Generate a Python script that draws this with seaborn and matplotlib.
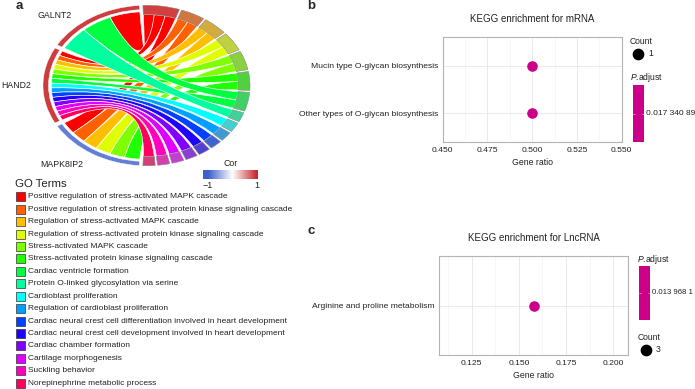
import numpy as np
import pandas as pd
import matplotlib
matplotlib.use("Agg")
import matplotlib.pyplot as plt
import seaborn as sns
from matplotlib.patches import PathPatch, Rectangle, Wedge
from matplotlib.path import Path
from matplotlib.colors import LinearSegmentedColormap, Normalize, to_rgb

# ---------------- data ----------------
genes = ["GALNT2", "HAND2", "MAPK8IP2"]
gene_cor = [0.9, 0.9, -0.8]
go_terms = [
    "Positive regulation of stress-activated MAPK cascade",
    "Positive regulation of stress-activated protein kinase signaling cascade",
    "Regulation of stress-activated MAPK cascade",
    "Regulation of stress-activated protein kinase signaling cascade",
    "Stress-activated MAPK cascade",
    "Stress-activated protein kinase signaling cascade",
    "Cardiac ventricle formation",
    "Protein O-linked glycosylation via serine",
    "Cardioblast proliferation",
    "Regulation of cardioblast proliferation",
    "Cardiac neural crest cell differentiation involved in heart development",
    "Cardiac neural crest cell development involved in heart development",
    "Cardiac chamber formation",
    "Cartilage morphogenesis",
    "Suckling behavior",
    "Norepinephrine metabolic process",
]
term_colors = ["#FF0000", "#FF6000", "#FFBF00", "#DFFF00", "#80FF00", "#20FF00",
               "#00FF40", "#00FF9F", "#00FFFF", "#009FFF", "#0040FF", "#2000FF",
               "#8000FF", "#DF00FF", "#FF00BF", "#FF0060"]
# term membership (1-based term index) of each gene
galnt2_terms = [1, 7, 8]
hand2_terms = [1, 2, 3, 4, 5, 6, 7, 9, 10, 11, 12, 13, 14, 15, 16]
mapk8ip2_terms = [1, 2, 3, 4, 5, 6]

kegg_m_terms = ["Other types of O-glycan biosynthesis", "Mucin type O-glycan biosynthesis"]
kegg_m_ratio = [0.5, 0.5]
kegg_m_count = [1, 1]
kegg_m_padj = [0.01734089, 0.01734089]
kegg_m_padj_label = "0.017 340 89"
kegg_m_ticks = [0.450, 0.475, 0.500, 0.525, 0.550]

kegg_l_terms = ["Arginine and proline metabolism"]
kegg_l_ratio = [0.158]
kegg_l_count = [3]
kegg_l_padj = [0.0139681]
kegg_l_padj_label = "0.013 968 1"
kegg_l_ticks = [0.125, 0.150, 0.175, 0.200]

# ---------------- style ----------------
sns.set_theme(style="white")
plt.rcParams["font.family"] = ["Liberation Sans", "DejaVu Sans"]
plt.rcParams["mathtext.fontset"] = "custom"
plt.rcParams["mathtext.rm"] = "Liberation Sans"
plt.rcParams["mathtext.it"] = "Liberation Sans:italic"

W, H = 695, 389
fig = plt.figure(figsize=(W / 100, H / 100), dpi=100)

def px_axes(x0, y0, x1, y1, **kw):
    return fig.add_axes([x0 / W, 1 - y1 / H, (x1 - x0) / W, (y1 - y0) / H], **kw)

# ---------------- chord diagram ----------------
cx, cy, rx, ry = 146.5, 85.5, 91.6, 71.0
axc = px_axes(0, 0, 300, 176)
axc.set_xlim((0 - cx) / rx, (300 - cx) / rx)
axc.set_ylim((cy - 176) / ry, cy / ry)
axc.axis("off")

def pt(r, d):
    t = np.deg2rad(d)
    return (r * np.cos(t), r * np.sin(t))

def arc(r, d1, d2, n=40):
    return [pt(r, d) for d in np.linspace(d1, d2, n)]

gene_links = [galnt2_terms, hand2_terms, mapk8ip2_terms]
n_terms = len(go_terms)
term_genes = [[g for g in range(len(genes)) if (k + 1) in gene_links[g]] for k in range(n_terms)]
n_links = sum(len(l) for l in gene_links)

g_start, g_end, g_gap = 94.0, 266.0, 2.6
g_span = (g_end - g_start - g_gap * (len(genes) - 1)) / len(genes)
t_start, t_end, t_gap = 92.0, -92.0, 1.3
t_w = (t_start - t_end - t_gap * (n_terms - 1)) / n_links

cmap = LinearSegmentedColormap.from_list("cor", ["#3D5FCB", "#FFFFFF", "#C8282C"])
norm = Normalize(-1, 1)

gene_lo = [g_start + g * (g_span + g_gap) for g in range(len(genes))]
term_hi = []
acc = t_start
for k in range(n_terms):
    term_hi.append(acc)
    acc -= len(term_genes[k]) * t_w + t_gap

rg, rt = 1.04, 1.0
for k in range(n_terms):
    for j, g in enumerate(term_genes[k]):
        idx = gene_links[g].index(k + 1)
        w = g_span / len(gene_links[g])
        a1 = gene_lo[g] + idx * w
        a2 = a1 + w
        b_hi = term_hi[k] - j * t_w
        b_lo = b_hi - t_w
        verts = arc(rg, a1, a2)
        codes = [Path.MOVETO] + [Path.LINETO] * (len(verts) - 1)
        verts += [(0, 0), pt(rt, b_lo)]
        codes += [Path.CURVE3, Path.CURVE3]
        ta = arc(rt, b_lo, b_hi)[1:]
        verts += ta
        codes += [Path.LINETO] * len(ta)
        verts += [(0, 0), pt(rg, a1), (0, 0)]
        codes += [Path.CURVE3, Path.CURVE3, Path.CLOSEPOLY]
        axc.add_patch(PathPatch(Path(verts, codes), facecolor=term_colors[k],
                                edgecolor="white", lw=0.45, zorder=2))

for k in range(n_terms):
    c = np.array(to_rgb(term_colors[k])) * 0.57 + 0.25
    b_hi = term_hi[k]
    b_lo = b_hi - len(term_genes[k]) * t_w
    axc.add_patch(Wedge((0, 0), 1.13, b_lo, b_hi, width=0.13, facecolor=c,
                        edgecolor="#8a8a8a", lw=0.4, zorder=3))
for g in range(len(genes)):
    axc.add_patch(Wedge((0, 0), 1.13, gene_lo[g], gene_lo[g] + g_span, width=0.06,
                        facecolor=cmap(norm(gene_cor[g])), edgecolor="white", lw=0.3, zorder=3))

# gene labels (pixel positions)
fig.text(55 / W, 1 - 15.5 / H, genes[0], ha="center", va="center", fontsize=6.3, color="#222222")
fig.text(1 / W, 1 - 85.5 / H, genes[1], ha="left", va="center", fontsize=6.3, color="#222222")
fig.text(62 / W, 1 - 164.5 / H, genes[2], ha="center", va="center", fontsize=6.3, color="#222222")

# Cor colorbar
axcb = px_axes(203, 170, 258, 179)
xs = np.linspace(-1.2, 1.04, 200)
axcb.imshow(cmap(norm(np.clip(xs, -1, 1)))[None, :, :], extent=(-1.2, 1.04, 0, 1), aspect="auto")
axcb.set_xlim(-1.2, 1.04)
axcb.set_yticks([])
axcb.set_xticks([-1, 1])
axcb.set_xticklabels(["\u22121", "1"], fontsize=6.5, color="#222222")
axcb.tick_params(axis="x", length=0, pad=1.5)
for s in axcb.spines.values():
    s.set_visible(False)
fig.text(230.5 / W, 1 - 163 / H, "Cor", ha="center", va="center", fontsize=6.3, color="#222222")

# GO terms legend
fig.text(15 / W, 1 - 183.5 / H, "GO Terms", ha="left", va="center", fontsize=8.2, color="#222222")
axl = px_axes(0, 0, W, H)
axl.set_xlim(0, W)
axl.set_ylim(H, 0)
axl.axis("off")
axl.patch.set_alpha(0)
for i, (t, c) in enumerate(zip(go_terms, term_colors)):
    yy = 196.8 + i * 12.43
    axl.add_patch(Rectangle((15.5, yy - 4.5), 9, 9, facecolor=c, edgecolor="#333333", lw=0.5))
    axl.text(28, yy, t, ha="left", va="center", fontsize=6.0, color="#222222")

# panel letters
for lab, x, y in [("a", 19, 6), ("b", 311, 6), ("c", 311, 231)]:
    fig.text(x / W, 1 - y / H, lab, ha="center", va="center", fontsize=9.5, fontweight="bold")

# ---------------- KEGG dot plots ----------------
MAG = "#CC0088"

def style_dot(ax, ticks, xlim, ylim, title):
    ax.set_xlim(*xlim)
    ax.set_ylim(*ylim)
    ax.set_xticks(ticks)
    ax.set_xticklabels([f"{t:.3f}" for t in ticks])
    minor = [(a + b) / 2 for a, b in zip(ticks[:-1], ticks[1:])]
    lo = ticks[0] - (ticks[1] - ticks[0]) / 2
    hi = ticks[-1] + (ticks[1] - ticks[0]) / 2
    minor = [m for m in [lo] + minor + [hi] if xlim[0] < m < xlim[1]]
    ax.set_xticks(minor, minor=True)
    ax.grid(True, which="major", color="#E6E6E6", lw=0.6)
    ax.grid(True, which="minor", axis="x", color="#F2F2F2", lw=0.4)
    ax.set_axisbelow(True)
    for s in ax.spines.values():
        s.set_color("#B3B3B3")
        s.set_linewidth(0.8)
    ax.tick_params(axis="both", which="major", labelsize=6.1, colors="#4D4D4D",
                   length=2, width=0.5, pad=1.5, labelcolor="#222222")
    ax.tick_params(axis="x", which="minor", length=0)
    ax.set_xlabel("Gene ratio", fontsize=6.3, labelpad=3, color="#222222")
    ax.set_ylabel("")
    ax.set_title(title, fontsize=7, pad=11, color="#222222")

df_m = pd.DataFrame({"term": kegg_m_terms, "ratio": kegg_m_ratio,
                     "count": kegg_m_count, "padj": kegg_m_padj})
axb = px_axes(442.7, 37.3, 621.7, 141.7)
sns.scatterplot(data=df_m, x="ratio", y="term", color=MAG, s=58, linewidth=0,
                legend=False, ax=axb, zorder=3)
style_dot(axb, kegg_m_ticks, (0.45, 0.55), (-0.6, 1.6), "KEGG enrichment for mRNA")

df_l = pd.DataFrame({"term": kegg_l_terms, "ratio": kegg_l_ratio,
                     "count": kegg_l_count, "padj": kegg_l_padj})
axk = px_axes(439.3, 256, 628.3, 355)
sns.scatterplot(data=df_l, x="ratio", y="term", color=MAG, s=58, linewidth=0,
                legend=False, ax=axk, zorder=3)
style_dot(axk, kegg_l_ticks, (0.1078, 0.208), (-0.6, 0.6), "KEGG enrichment for LncRNA")

# legends for dot plots (pixel coordinates)
def count_legend(x, y, val):
    axl.text(x - 1, y, "Count", ha="left", va="center", fontsize=6.2, color="#222222")
    axl.scatter([x + 7], [y + 12.5], s=55, color="black", zorder=4)
    axl.text(x + 12.5 + 4.5, y + 12.5, str(val), ha="left", va="center", fontsize=6.2, color="#222222")

def padj_legend(x, y, y0, y1, val, fs):
    axl.text(x - 1, y, r"$\it{P}$.adjust", ha="left", va="center", fontsize=6.2, color="#222222")
    axl.add_patch(Rectangle((x + 1, y0), 11, y1 - y0, facecolor=MAG, edgecolor="none"))
    ym = (y0 + y1) / 2
    axl.plot([x + 1, x + 3], [ym, ym], color="white", lw=0.5, alpha=0.6)
    axl.plot([x + 10, x + 12], [ym, ym], color="white", lw=0.5, alpha=0.6)
    axl.text(x + 14.5, ym, val, ha="left", va="center", fontsize=fs, color="#222222")

count_legend(631, 41, kegg_m_count[0])
padj_legend(631.5, 77, 85, 142, kegg_m_padj_label, 6.0)
padj_legend(638, 259.5, 266, 320, kegg_l_padj_label, 5.6)
count_legend(638.5, 337.3, kegg_l_count[0])

fig.savefig("out.png", dpi=100)
